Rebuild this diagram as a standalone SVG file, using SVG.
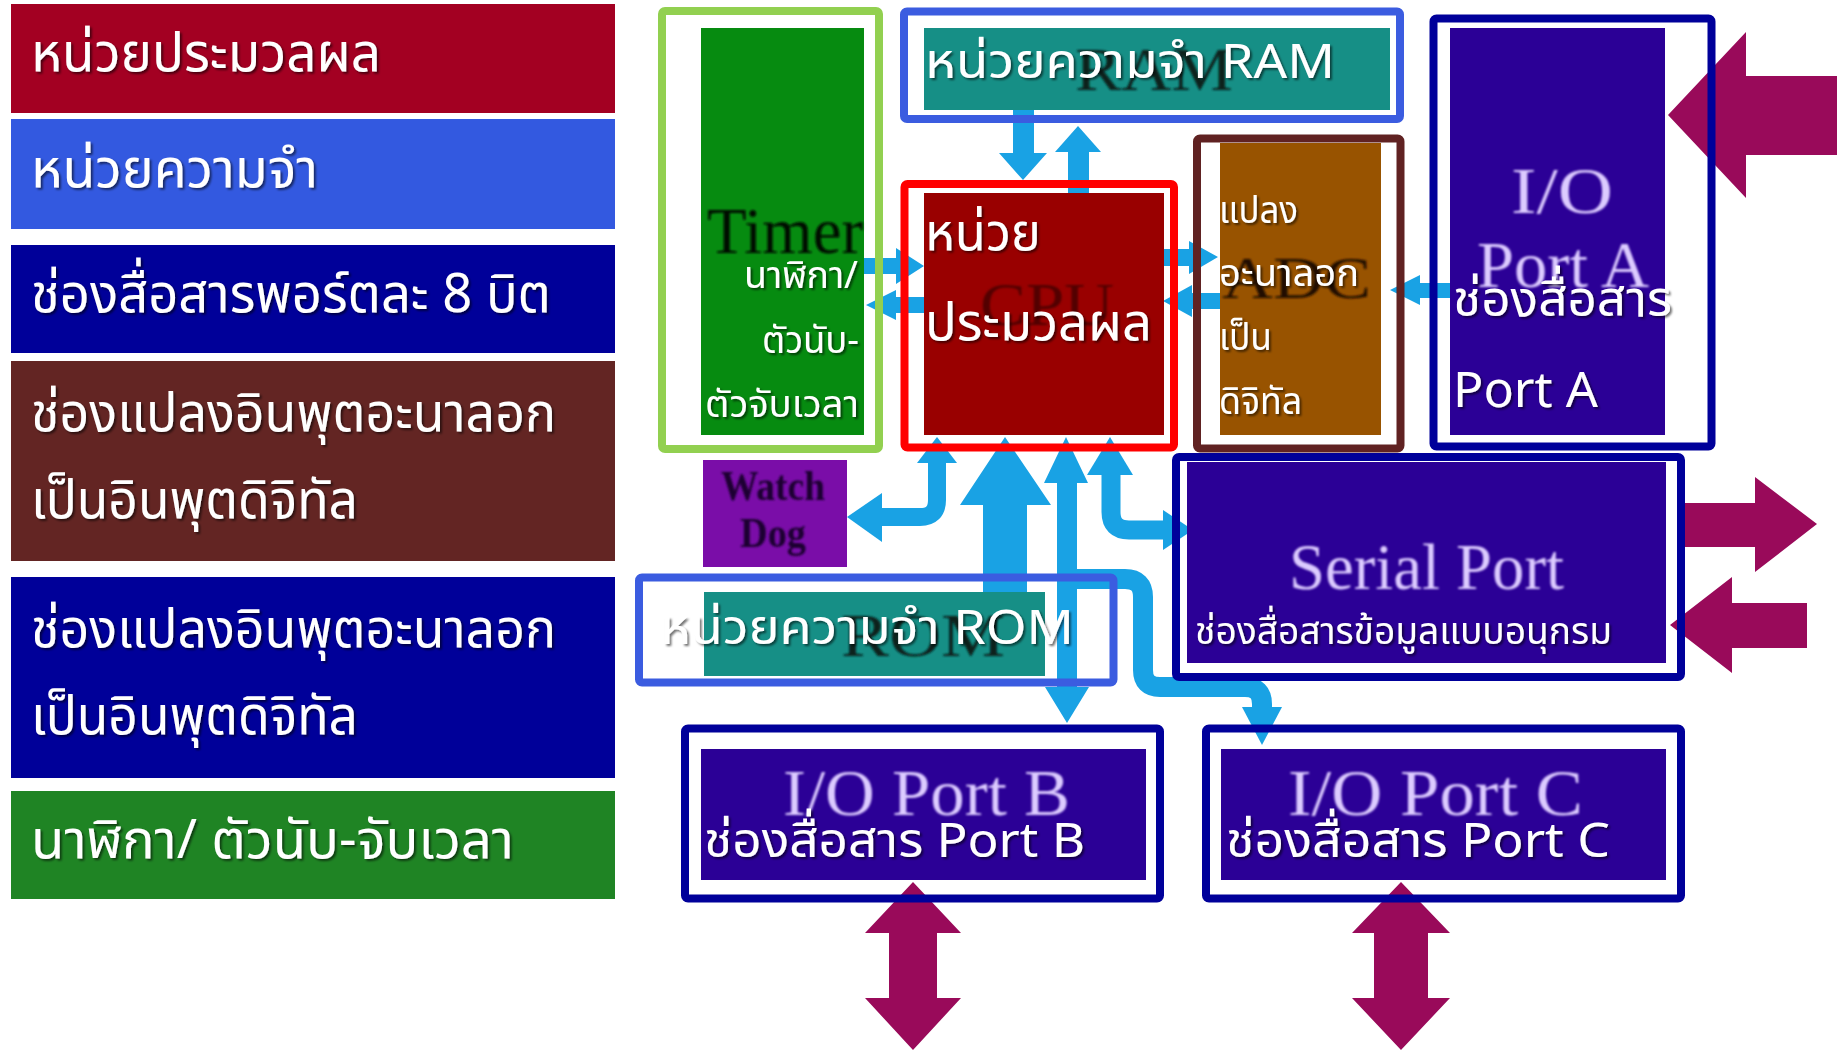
<svg xmlns="http://www.w3.org/2000/svg" width="1845" height="1053" viewBox="0 0 1845 1053">
<defs>
<filter id="sh" x="-5%" y="-30%" width="112%" height="160%"><feDropShadow dx="2" dy="2" stdDeviation="1.2" flood-color="#000" flood-opacity="0.55"/></filter>
<filter id="bl" x="-5%" y="-20%" width="110%" height="140%"><feGaussianBlur stdDeviation="1"/></filter>
<style>
.t{font-family:"Noto Sans Thai","Noto Sans Thai UI","Noto Sans","DejaVu Sans",sans-serif;fill:#fff;filter:url(#sh)}
.lg{font-size:54px}
.m{font-size:48px}
.s{font-size:38px}
.img{font-family:"Liberation Serif","Times New Roman",serif;filter:url(#bl)}
.lav{fill:#dccbff;font-size:66px}
.bus{fill:#19A2E4}
.busl{fill:none;stroke:#19A2E4;stroke-linejoin:round}
.mar{fill:#990A5A}
.ol{fill:none;stroke-width:8}
.port{fill:#2B0096}
.teal{fill:#168F86}
</style>
</defs>
<rect width="1845" height="1053" fill="#fff"/>

<g id="legend">
<g id="legend-cpu"><rect x="11" y="4" width="604" height="109" fill="#A30022"/><text class="t lg" x="31" y="71" textLength="350" lengthAdjust="spacingAndGlyphs">หน่วยประมวลผล</text></g>
<g id="legend-memory"><rect x="11" y="119" width="604" height="110" fill="#3359E0"/><text class="t lg" x="31" y="187" textLength="287" lengthAdjust="spacingAndGlyphs">หน่วยความจำ</text></g>
<g id="legend-port"><rect x="11" y="245" width="604" height="108" fill="#000099"/><text class="t lg" x="31" y="312" textLength="520" lengthAdjust="spacingAndGlyphs">ช่องสื่อสารพอร์ตละ 8 บิต</text></g>
<g id="legend-adc1"><rect x="11" y="361" width="604" height="200" fill="#632523"/><text class="t lg" x="31" y="431" textLength="525" lengthAdjust="spacingAndGlyphs">ช่องแปลงอินพุตอะนาลอก</text><text class="t lg" x="31" y="518" textLength="327" lengthAdjust="spacingAndGlyphs">เป็นอินพุตดิจิทัล</text></g>
<g id="legend-adc2"><rect x="11" y="577" width="604" height="201" fill="#000099"/><text class="t lg" x="31" y="647" textLength="525" lengthAdjust="spacingAndGlyphs">ช่องแปลงอินพุตอะนาลอก</text><text class="t lg" x="31" y="734" textLength="327" lengthAdjust="spacingAndGlyphs">เป็นอินพุตดิจิทัล</text></g>
<g id="legend-timer"><rect x="11" y="791" width="604" height="108" fill="#1F8424"/><text class="t lg" x="31" y="858" textLength="483" lengthAdjust="spacingAndGlyphs">นาฬิกา/ ตัวนับ-จับเวลา</text></g>
</g>

<g id="connectors">
<polygon class="bus" points="864,258 896,258 896,248 924,266 896,284 896,274 864,274"/>
<polygon class="bus" points="866,305 896,290 896,297 924,297 924,313 896,313 896,320"/>
<polygon class="bus" points="1164,249 1189,249 1189,241 1218,257 1189,274 1189,266 1164,266"/>
<polygon class="bus" points="1163,301 1192,285 1192,293 1222,293 1222,309 1192,309 1192,317"/>
<polygon class="bus" points="1390,290 1420,275 1420,283 1451,283 1451,298 1420,298 1420,305"/>
<polygon class="bus" points="1013,110 1034,110 1034,153 1047,153 1023,180 999,153 1013,153"/>
<polygon class="bus" points="1078,126 1101,152 1089,152 1089,194 1068,194 1068,152 1055,152"/>
<polygon class="bus" points="917,463 937,437 957,463"/>
<path class="busl" stroke-width="18" d="M937,462 V500 Q937,517 920,517 H880"/>
<polygon class="bus" points="882,493 847,517 882,542"/>
<polygon class="bus" points="960,505 1005,437 1051,505 1027,505 1027,600 983,600 983,505"/>
<polygon class="bus" points="1066,437 1088,483 1077,483 1077,687 1089,687 1067,723 1045,687 1057,687 1057,483 1044,483"/>
<polygon class="bus" points="1087,475 1110,437 1133,475"/>
<path class="busl" stroke-width="19" d="M1111,474 V512 Q1111,530 1129,530 H1165"/>
<polygon class="bus" points="1163,510 1193,530 1163,550"/>
<path class="busl" stroke-width="20" d="M1076,579 H1125 Q1143,579 1143,597 V670 Q1143,687 1160,687 H1245 Q1262,687 1262,704 V709"/>
<polygon class="bus" points="1242,707 1262,745 1282,707"/>
<polygon class="mar" points="1668,115 1746,32 1746,76 1837,76 1837,155 1746,155 1746,198"/>
<polygon class="mar" points="1685,503 1755,503 1755,477 1817,524 1755,572 1755,547 1685,547"/>
<polygon class="mar" points="1670,625 1732,577 1732,603 1807,603 1807,648 1732,648 1732,673"/>
<polygon class="mar" points="913,882 961,933 937,933 937,998 961,998 913,1050 865,998 889,998 889,933 865,933"/>
<polygon class="mar" points="1401,882 1450,933 1428,933 1428,998 1450,998 1401,1050 1352,998 1374,998 1374,933 1352,933"/>
</g>

<g id="timer">
<rect x="701" y="28" width="163" height="407" fill="#068B10"/>
<text class="img" x="707" y="253" font-size="66" textLength="156" lengthAdjust="spacingAndGlyphs" fill="#050d05">Timer</text>
<rect class="ol" x="662" y="11" width="217" height="438" rx="3" stroke="#92D050"/>
<text class="t s" x="858" y="288" text-anchor="end" textLength="114" lengthAdjust="spacingAndGlyphs">นาฬิกา/</text>
<text class="t s" x="859" y="353" text-anchor="end" textLength="97" lengthAdjust="spacingAndGlyphs">ตัวนับ-</text>
<text class="t s" x="859" y="417" text-anchor="end" textLength="154" lengthAdjust="spacingAndGlyphs">ตัวจับเวลา</text>
</g>

<g id="ram">
<rect class="teal" x="924" y="28" width="466" height="82"/>
<text class="img" x="1075" y="90" font-size="62" textLength="158" lengthAdjust="spacingAndGlyphs" fill="#08201d">RAM</text>
<rect class="ol" x="904" y="11.5" width="496" height="107.5" rx="3" stroke="#3B5CE0" stroke-width="9"/>
<text class="t m" x="925" y="78" textLength="410" lengthAdjust="spacingAndGlyphs">หน่วยความจำ RAM</text>
</g>

<g id="cpu">
<rect x="924" y="193" width="240" height="242" fill="#990000"/>
<text class="img" x="980" y="325" font-size="62" textLength="134" lengthAdjust="spacingAndGlyphs" fill="#520000">CPU</text>
<rect class="ol" x="904.5" y="184" width="269.5" height="263.5" rx="3" stroke="#FF0000" stroke-width="9"/>
<text class="t" font-size="52" x="925" y="250" textLength="116" lengthAdjust="spacingAndGlyphs">หน่วย</text>
<text class="t" font-size="52" x="925" y="340" textLength="227" lengthAdjust="spacingAndGlyphs">ประมวลผล</text>
</g>

<g id="adc">
<rect x="1220" y="143" width="161" height="292" fill="#985300"/>
<text class="img" x="1222" y="298" font-size="60" textLength="149" lengthAdjust="spacingAndGlyphs" fill="#241000">ADC</text>
<rect class="ol" x="1197" y="138.5" width="203.5" height="310" rx="3" stroke="#602222"/>
<text class="t s" x="1219" y="223" textLength="79" lengthAdjust="spacingAndGlyphs">แปลง</text>
<text class="t s" x="1219" y="286" textLength="140" lengthAdjust="spacingAndGlyphs">อะนาลอก</text>
<text class="t s" x="1219" y="350" textLength="53" lengthAdjust="spacingAndGlyphs">เป็น</text>
<text class="t s" x="1219" y="414" textLength="83" lengthAdjust="spacingAndGlyphs">ดิจิทัล</text>
</g>

<g id="port-a">
<rect class="port" x="1450" y="28" width="215" height="407"/>
<text class="img lav" x="1511" y="213" textLength="102" lengthAdjust="spacingAndGlyphs">I/O</text>
<text class="img lav" x="1477" y="287" textLength="172" lengthAdjust="spacingAndGlyphs">Port A</text>
<rect class="ol" x="1433.5" y="18.5" width="278" height="428" rx="3" stroke="#00009A"/>
<text class="t" font-size="50" x="1453" y="316" textLength="219" lengthAdjust="spacingAndGlyphs">ช่องสื่อสาร</text>
<text class="t" font-size="50" x="1453" y="407" textLength="145" lengthAdjust="spacingAndGlyphs">Port A</text>
</g>

<g id="watchdog">
<rect x="703" y="460" width="144" height="107" fill="#7A0DA8"/>
<text class="img" x="721" y="500" font-size="42" font-weight="bold" textLength="104" lengthAdjust="spacingAndGlyphs" fill="#1c0430">Watch</text>
<text class="img" x="740" y="547" font-size="42" font-weight="bold" textLength="66" lengthAdjust="spacingAndGlyphs" fill="#1c0430">Dog</text>
</g>

<g id="rom">
<rect class="teal" x="704" y="592" width="341" height="84"/>
<text class="img" x="841" y="656" font-size="62" textLength="164" lengthAdjust="spacingAndGlyphs" fill="#08201d">ROM</text>
<rect class="ol" x="639" y="577.5" width="474.5" height="105" rx="3" stroke="#3B5CE0"/>
<text class="t m" x="660" y="644" textLength="414" lengthAdjust="spacingAndGlyphs">หน่วยความจำ ROM</text>
</g>

<g id="serial-port">
<rect class="port" x="1187" y="462" width="479" height="201"/>
<text class="img lav" x="1289" y="589" textLength="275" lengthAdjust="spacingAndGlyphs">Serial Port</text>
<rect class="ol" x="1176" y="457" width="505" height="220" rx="3" stroke="#00009A"/>
<text class="t s" x="1195" y="644" textLength="417" lengthAdjust="spacingAndGlyphs">ช่องสื่อสารข้อมูลแบบอนุกรม</text>
</g>

<g id="port-b">
<rect class="port" x="701" y="749" width="445" height="131"/>
<text class="img lav" x="783" y="815" textLength="287" lengthAdjust="spacingAndGlyphs">I/O Port B</text>
<rect class="ol" x="685" y="728.5" width="475" height="170" rx="3" stroke="#00009A"/>
<text class="t m" x="704" y="857" textLength="381" lengthAdjust="spacingAndGlyphs">ช่องสื่อสาร Port B</text>
</g>

<g id="port-c">
<rect class="port" x="1221" y="749" width="445" height="131"/>
<text class="img lav" x="1288" y="815" textLength="295" lengthAdjust="spacingAndGlyphs">I/O Port C</text>
<rect class="ol" x="1206" y="728.5" width="475" height="170" rx="3" stroke="#00009A"/>
<text class="t m" x="1226" y="857" textLength="384" lengthAdjust="spacingAndGlyphs">ช่องสื่อสาร Port C</text>
</g>
</svg>
